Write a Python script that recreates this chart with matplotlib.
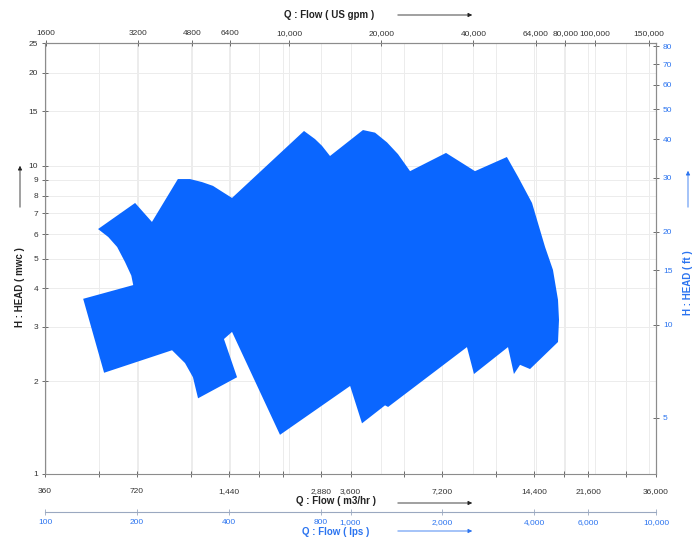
import matplotlib.pyplot as plt

plt.rcParams['font.family'] = ['Liberation Sans', 'DejaVu Sans']

# outline of the pump coverage area (flow in m3/hr, head in mwc)
flow_m3h = [480, 700, 690, 658, 620, 580, 537, 710, 806, 980, 1074, 1175, 1277, 1377,
            1474, 2536, 2755, 2904, 3085, 3955, 4331, 4741, 5150, 5640, 7395, 9200,
            11700, 12730, 14140, 15600, 16560, 17200, 17330, 17200, 13930, 12920,
            12340, 11800, 9130, 8660, 4780, 4670, 3926, 3590, 2116, 1474, 1387, 1531,
            1141, 1098, 1034, 938, 562]
head_mwc = [3.7, 4.1, 4.4, 4.87, 5.45, 5.87, 6.23, 7.57, 6.57, 9.05, 9.05, 8.85, 8.6, 8.2,
            7.86, 12.96, 12.2, 11.6, 10.75, 13.05, 12.8, 11.9, 10.9, 9.6, 11.0, 9.6,
            10.67, 9.2, 7.57, 5.45, 4.59, 3.67, 3.16, 2.68, 2.19, 2.26,
            2.11, 2.58, 2.11, 2.58, 1.65, 1.67, 1.46, 1.93, 1.34, 2.89, 2.74, 2.06,
            1.76, 2.06, 2.29, 2.52, 2.13]

m3h_ticks = [360, 720, 1440, 2880, 3600, 7200, 14400, 21600, 36000]
m3h_labels = ['360', '720', '1,440', '2,880', '3,600', '7,200', '14,400', '21,600', '36,000']
m3h_minor = [540, 1080, 1800, 2160, 5400, 10800, 18000, 28800]
mwc_ticks = [1, 2, 3, 4, 5, 6, 7, 8, 9, 10, 15, 20, 25]
gpm_ticks = [1600, 3200, 4800, 6400, 10000, 20000, 40000, 64000, 80000, 100000, 150000]
gpm_labels = ['1600', '3200', '4800', '6400', '10,000', '20,000', '40,000', '64,000',
              '80,000', '100,000', '150,000']
lps_ticks = [100, 200, 400, 800, 1000, 2000, 4000, 6000, 10000]
lps_labels = ['100', '200', '400', '800', '1,000', '2,000', '4,000', '6,000', '10,000']
ft_ticks = [5, 10, 15, 20, 30, 40, 50, 60, 70, 80]

GPM = 4.4029
FT = 3.2808
BLUE = '#0a66ff'
LBLUE = '#2b74f0'
GRAY = '#8c8c8c'
W, H = 697, 542


def fp(x, y):
    return (x / W, 1 - y / H)


fig = plt.figure(figsize=(W / 100, H / 100), dpi=100)
ax = fig.add_axes([45 / W, 1 - 474 / H, 611 / W, 431 / H])
ax.set_xscale('log')
ax.set_yscale('log')
ax.set_xlim(360, 36000)
ax.set_ylim(1, 25)

# grid lines
for q in m3h_ticks + [g / GPM for g in gpm_ticks] + m3h_minor:
    ax.axvline(q, color='#ececec', lw=0.7, zorder=0)
for h in mwc_ticks:
    ax.axhline(h, color='#ececec', lw=0.7, zorder=0)

ax.fill(flow_m3h, head_mwc, color=BLUE, lw=0, zorder=2)

for s in ax.spines.values():
    s.set_color(GRAY)
    s.set_linewidth(0.8)

ax.set_xticks(m3h_ticks, m3h_labels)
ax.set_xticks(m3h_minor, minor=True)
ax.xaxis.set_minor_formatter(plt.NullFormatter())
ax.set_yticks(mwc_ticks, [str(v) for v in mwc_ticks])
ax.yaxis.set_minor_locator(plt.NullLocator())
ax.tick_params(which='both', direction='inout', length=4, width=0.6, color='#555555',
               labelsize=6, labelcolor='#333333')
ax.tick_params(axis='x', pad=8)
ax.tick_params(axis='y', pad=3)

top = ax.secondary_xaxis('top', functions=(lambda q: q * GPM, lambda g: g / GPM))
top.set_xticks(gpm_ticks, gpm_labels)
top.xaxis.set_minor_locator(plt.NullLocator())
top.tick_params(direction='inout', length=4, width=0.6, color='#555555',
                labelsize=6, labelcolor='#333333', pad=2)
top.spines['top'].set_color(GRAY)

right = ax.secondary_yaxis('right', functions=(lambda m: m * FT, lambda f: f / FT))
right.set_yticks(ft_ticks, [str(v) for v in ft_ticks])
right.yaxis.set_minor_locator(plt.NullLocator())
right.tick_params(direction='inout', length=4, width=0.6, color='#555555',
                  labelsize=6, labelcolor=LBLUE, pad=3)
right.spines['right'].set_color(GRAY)

lps = ax.secondary_xaxis(-0.088, functions=(lambda q: q / 3.6, lambda l: l * 3.6))
lps.set_xticks(lps_ticks, lps_labels)
lps.xaxis.set_minor_locator(plt.NullLocator())
lps.tick_params(direction='inout', length=4, width=0.6, color='#9aa8c0',
                labelsize=6, labelcolor=LBLUE, pad=3)
lps.spines['bottom'].set_color('#9aa8c0')

# axis titles and arrows
fig.text(*fp(329, 15), 'Q : Flow ( US gpm )', ha='center', va='center',
         fontsize=7, fontweight='bold', color='#222222')
fig.text(*fp(336, 501), 'Q : Flow ( m3/hr )', ha='center', va='center',
         fontsize=7, fontweight='bold', color='#222222')
fig.text(*fp(336, 532), 'Q : Flow ( lps )', ha='center', va='center',
         fontsize=7, fontweight='bold', color=LBLUE)
fig.text(*fp(20, 287), 'H : HEAD ( mwc )', ha='center', va='center', rotation=90,
         fontsize=7, fontweight='bold', color='#222222')
fig.text(*fp(688, 283), 'H : HEAD ( ft )', ha='center', va='center', rotation=90,
         fontsize=7, fontweight='bold', color=LBLUE)


def arrow(x0, y0, x1, y1, c):
    ax.annotate('', xy=fp(x1, y1), xytext=fp(x0, y0), xycoords='figure fraction',
                textcoords='figure fraction',
                arrowprops=dict(arrowstyle='-|>', color=c, lw=0.6,
                                mutation_scale=6), annotation_clip=False)


arrow(395, 15, 475, 15, '#222222')
arrow(395, 503, 475, 503, '#222222')
arrow(395, 531, 475, 531, LBLUE)
arrow(20, 210, 20, 163, '#222222')
arrow(688, 210, 688, 168, LBLUE)

fig.savefig('out.png', dpi=100)
